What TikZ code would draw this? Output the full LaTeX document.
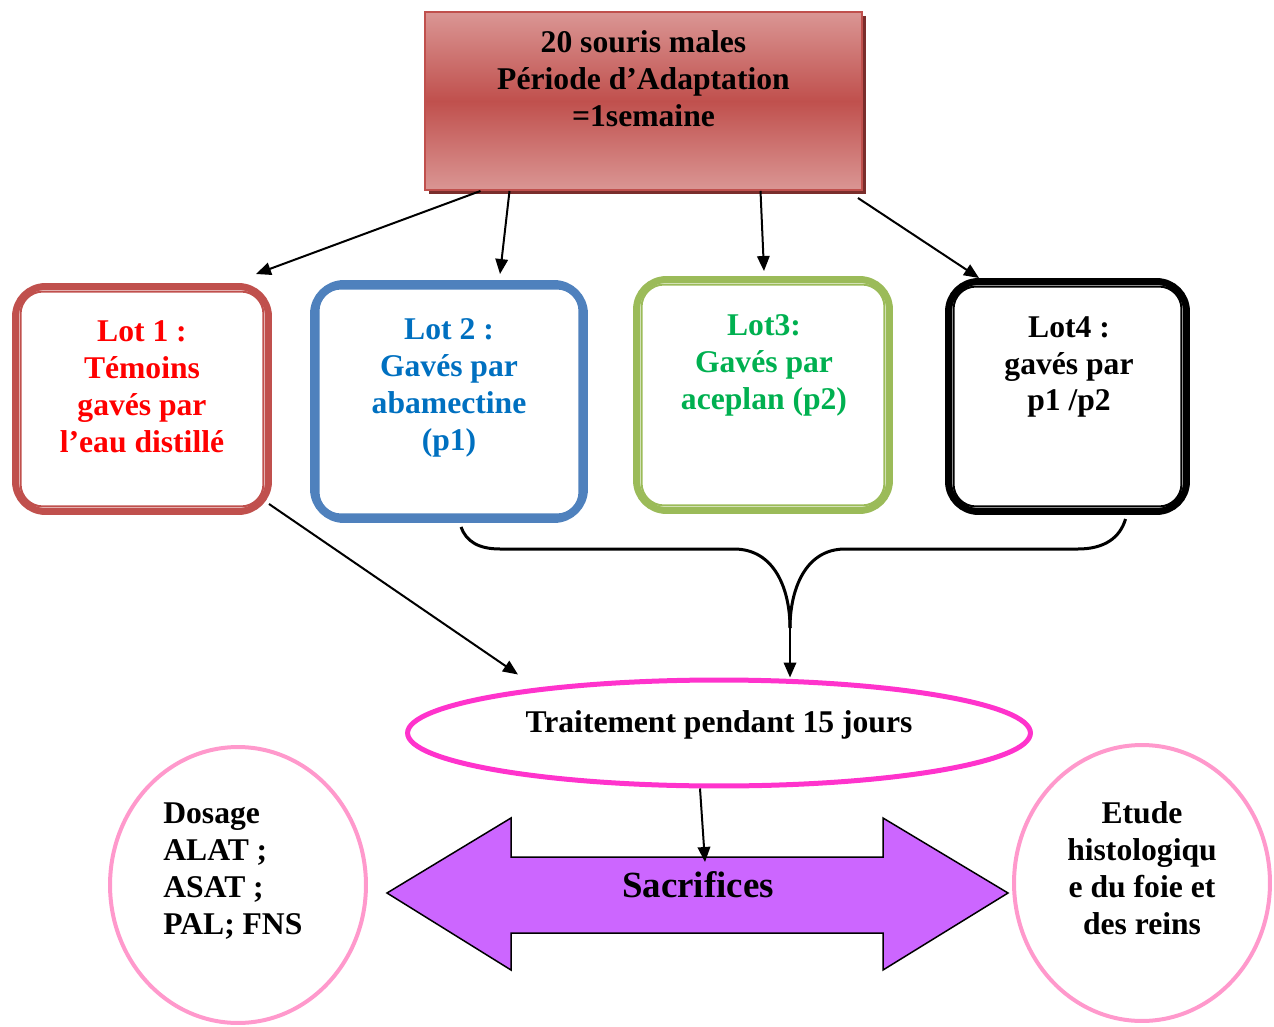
\documentclass[tikz,border=0pt]{standalone}
\usepackage{fontspec}
\setmainfont{Liberation Serif}
\usepackage{tikz}
\usetikzlibrary{shapes.geometric,arrows.meta,calc}
\definecolor{lotred}{HTML}{C0504D}
\definecolor{lotredtxt}{HTML}{FF0000}
\definecolor{lotblue}{HTML}{4F81BD}
\definecolor{lotbluetxt}{HTML}{0070C0}
\definecolor{lotgreen}{HTML}{9BBB59}
\definecolor{lotgreentxt}{HTML}{00B050}
\definecolor{toplight}{HTML}{DA9694}
\definecolor{topshadow}{HTML}{7A2E2C}
\definecolor{traitpink}{HTML}{FF33CC}
\definecolor{circpink}{HTML}{FF99CC}
\definecolor{sacrviolet}{HTML}{CC66FF}

\begin{document}
\begin{tikzpicture}[x=0.02cm,y=-0.02cm,
		every node/.style={font=\fontsize{18}{21}\selectfont\bfseries, align=center},
		lot/.style={draw, line width=0.14cm, rounded corners=0.6cm, inner sep=0pt},
		circ/.style={draw=circpink, line width=0.08cm, ellipse, inner sep=0pt, minimum width=5.12cm, minimum height=5.52cm},
		conn/.style={line width=0.04cm}]
			\tikzset{>={Triangle[length=0.3cm,width=0.25cm]}}
			\useasboundingbox (0,0) rectangle (1274,1027);

			% box on top, with its shadow
			\fill[topshadow] (429,16) rectangle (866,194);
			\node[draw=lotred, line width=0.04cm, top color=toplight, bottom color=toplight, middle color=lotred,
				minimum width=8.74cm, minimum height=3.56cm, inner sep=0pt] (top) at (643.5,101) {};
			\node (toptxt) at (643.5,79) {20 souris males\\Période d’Adaptation\\=1semaine};

			% the four lots
			\node[lot, draw=lotred, minimum width=5.06cm, minimum height=4.5cm] (lot1) at (142,399) {};
			\node[lot, draw=lotblue, line width=0.16cm, minimum width=5.4cm, minimum height=4.7cm] (lot2) at (449,401.5) {};
			\node[lot, draw=lotgreen, minimum width=5.06cm, minimum height=4.62cm] (lot3) at (763,395) {};
			\node[lot, draw=black, minimum width=4.76cm, minimum height=4.6cm] (lot4) at (1067.5,396.5) {};
			\foreach \n/\c in {lot1/lotred,lot2/lotblue,lot3/lotgreen,lot4/black}
				\draw[\c, line width=0.04cm, rounded corners=0.45cm] ([shift={(8.5,8.5)}]\n.north west) rectangle ([shift={(-8.5,-8.5)}]\n.south east);
			\node[text=lotredtxt] (lot1txt) at (142,387) {Lot 1 :\\Témoins\\gavés par\\l’eau distillé};
			\node[text=lotbluetxt] (lot2txt) at (449,388) {Lot 2 :\\Gavés par\\abamectine\\(p1)};
			\node[text=lotgreentxt] (lot3txt) at (764,365) {Lot3:\\Gavés par\\aceplan (p2)};
			\node (lot4txt) at (1069,367) {Lot4 :\\gavés par\\p1 /p2};

			% treatment
			\node[draw=traitpink, line width=0.1cm, ellipse, inner sep=0pt, minimum width=12.46cm, minimum height=2.12cm] (trait) at (719,733) {};
			\node (traittxt) at (719,725) {Traitement pendant 15 jours};

			% sacrifice arrow and the two analyses
			\filldraw[fill=sacrviolet, draw=black, line width=0.03cm] (387,893) -- (511,818) -- (511,857) -- (883,857) -- (883,818)
				-- (1008,893) -- (883,970) -- (883,933) -- (511,933) -- (511,970) -- cycle;
			\node[font=\fontsize{21}{24}\selectfont\bfseries] (sacr) at (698,885) {Sacrifices};
			\coordinate (sacrtop) at (705,862);
			\node[circ] (dosage) at (238,885) {};
			\node[anchor=west, align=left, inner sep=0pt] (dosagetxt) at (163,871) {Dosage\\ALAT ;\\ASAT ;\\PAL; FNS};
			\node[circ] (etude) at (1142,883) {};
			\node (etudetxt) at (1142,868) {Etude\\histologiqu\\e du foie et\\des reins};

			% arrows
			\draw[conn,->] ([shift={(-163,0)}]top.south) -- ([shift={(-16,-9)}]lot1.north east);
			\draw[conn,->] ([shift={(-134,0)}]top.south) -- ([shift={(51,-6)}]lot2.north);
			\draw[conn,->] ([shift={(117,0)}]top.south) -- ([shift={(1,-5)}]lot3.north);
			\draw[conn,->] ([shift={(-5,7)}]top.south east) -- ([shift={(34,0)}]lot4.north west);
			\draw[conn,->] ([shift={(-3,-11)}]lot1.south east) -- ([shift={(-201,-3)}]trait.north);
			\coordinate (merge) at (790,628);
			\draw[line width=0.06cm] ([shift={(12,4)}]lot2.south) .. controls (466,541) and (478,549) .. (500,549) -- (734,549)
				.. controls (775,549) and (790,590) .. (merge);
			\draw[line width=0.06cm] ([shift={(58,4)}]lot4.south) .. controls (1120,538) and (1104,549) .. (1078,549) -- (845,549)
				.. controls (805,549) and (790,590) .. (merge);
			\draw[conn,->] (merge) -- (merge |- trait.north);
			\draw[conn,->] ([shift={(-19,0)}]trait.south) -- (sacrtop);
		\end{tikzpicture}
\end{document}
